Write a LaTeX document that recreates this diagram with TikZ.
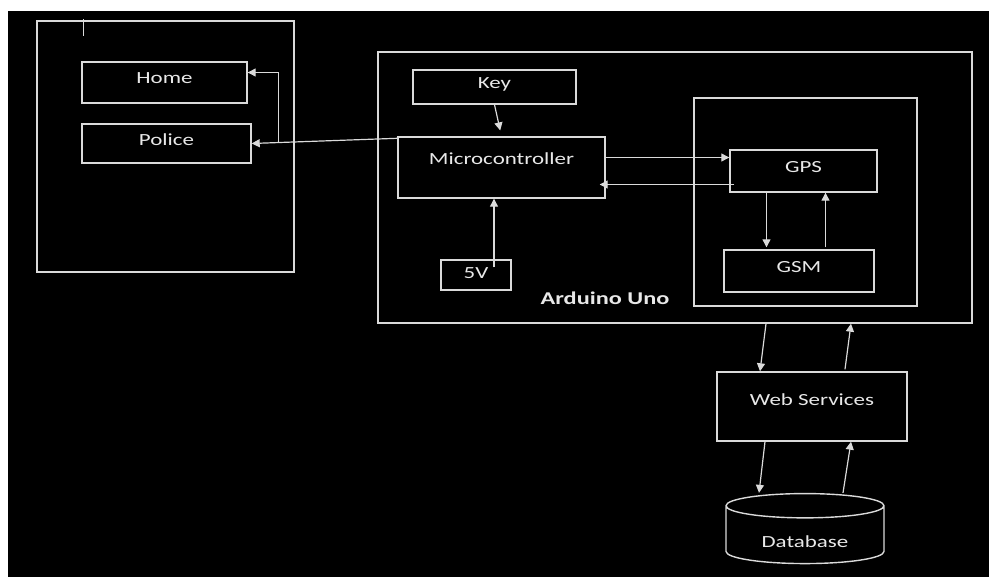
\documentclass[tikz,border=0pt]{standalone}
\usepackage{fontspec}
\setmainfont{Carlito}[FakeStretch=1.35]
\usetikzlibrary{arrows.meta,calc,shapes.geometric}

\definecolor{lineg}{RGB}{218,218,218}
\definecolor{textg}{RGB}{232,232,232}

\begin{document}
\begin{tikzpicture}[
    x=1pt,y=-1pt,
    font=\fontsize{17}{20}\selectfont,
    box/.style={draw=lineg,line width=1.4pt,text=textg,minimum width=#1,
                inner sep=0pt,text depth=8pt},
    panel/.style={draw=lineg,line width=1.4pt,inner sep=0pt},
    >={Triangle[length=8pt,width=8pt]},
    arr/.style={->,draw=lineg,line width=1.2pt}
  ]
  \fill[white] (0,0) rectangle (989,577);
  \fill[black] (8,11) rectangle (989,577);
  \useasboundingbox (0,0) rectangle (989,577);

  % alert side
  \node[panel,minimum width=257pt,minimum height=251pt] (alerts) at (165.5,146.5) {};
  \draw[lineg,line width=1.2pt] ([xshift=47pt,yshift=1pt]alerts.north west) -- ++(0,17);
  \node[box=165pt,minimum height=41pt] (home)   at (164.5,82.5)  {Home};
  \node[box=169pt,minimum height=39pt] (police) at (166.5,143.5) {Police};

  % the board
  \node[panel,minimum width=594pt,minimum height=271pt] (arduino) at (675,187.5) {};
  \node[box=163pt,minimum height=34pt] (key)   at (494.5,87)   {Key};
  \node[box=207pt,minimum height=61pt,text depth=17pt] (micro) at (501.5,167.5) {Microcontroller};
  \node[box=70pt,minimum height=30pt,text depth=4pt]   (v5)    at (476,275)     {5V};
  \node[text=textg,font=\fontsize{18}{22}\selectfont\bfseries] (unolabel) at (605,298) {Arduino Uno};

  \node[panel,minimum width=223pt,minimum height=208pt] (module) at (805.5,202) {};
  \node[box=147pt,minimum height=42pt] (gps) at (803.5,171) {GPS};
  \node[box=150pt,minimum height=42pt] (gsm) at (799,271)   {GSM};

  % server side
  \node[box=190pt,minimum height=69pt,text depth=13pt] (web) at (812,406.5) {Web Services};
  \node[cylinder,shape border rotate=90,draw=lineg,line width=1.4pt,text=textg,
        minimum width=158pt,minimum height=70pt,aspect=0.28,inner sep=0pt,
        text height=25pt] (db) at (805,535) {Database};

  \coordinate (split) at ($(police.east)!0.184!([yshift=-2pt]micro.north west)$);
  \draw[arr] ([yshift=-2pt]micro.north west) -- (police.east);
  \draw[arr] (split) |- ([yshift=10pt]home.east);

  \draw[arr,shorten >=6pt] (key.south) -- (micro.north);
  \draw[arr] ([xshift=18pt,yshift=-8pt]v5.north) -- ([xshift=18pt]v5.north |- micro.south);

  \draw[arr] ([yshift=10pt]micro.east) -- ([yshift=10pt]micro.east -| gps.west);
  \draw[arr] ([yshift=-17pt,xshift=5pt]micro.east -| gps.west) -- ([yshift=-17pt,xshift=-6pt]micro.east);
  \draw[arr] ([xshift=-37pt]gps.south) -- ([xshift=-37pt,yshift=2pt]gps.south |- gsm.north);
  \draw[arr] ([xshift=22pt,yshift=2pt]gps.south |- gsm.north) -- ([xshift=22pt]gps.south);

  \draw[arr] ([xshift=-46pt]web.north |- arduino.south) -- ([xshift=-52pt]web.north);
  \draw[arr] ([xshift=33pt,yshift=2pt]web.north) -- ([xshift=39pt]web.north |- arduino.south);
  \draw[arr] ([xshift=-47pt]web.south) -- ([xshift=-53pt]web.south |- db.north);
  \draw[arr] ([xshift=31pt]web.south |- db.north) -- ([xshift=39pt]web.south);
\end{tikzpicture}
\end{document}
